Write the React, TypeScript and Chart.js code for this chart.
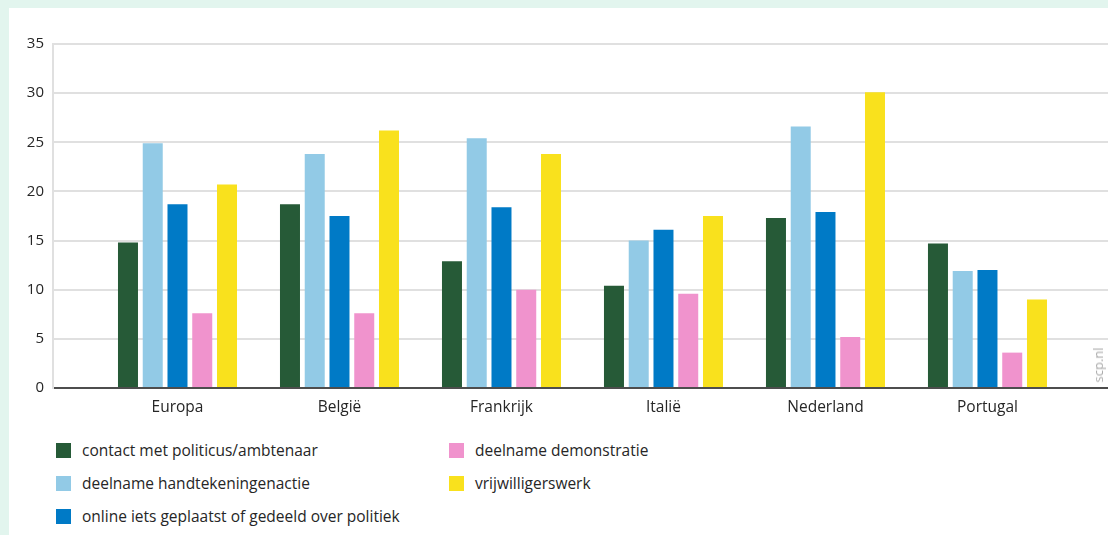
import React, { useEffect, useRef } from "react";
import { Chart, registerables } from "chart.js";

Chart.register(...registerables);

const categories = ["Europa", "België", "Frankrijk", "Italië", "Nederland", "Portugal"];
const seriesNames = [
  "contact met politicus/ambtenaar",
  "deelname handtekeningenactie",
  "online iets geplaatst of gedeeld over politiek",
  "deelname demonstratie",
  "vrijwilligerswerk",
];
const contactValues = [14.8, 18.7, 12.9, 10.4, 17.3, 14.7];
const handtekeningValues = [24.9, 23.8, 25.4, 15.0, 26.6, 11.9];
const onlineValues = [18.7, 17.5, 18.4, 16.1, 17.9, 12.0];
const demonstratieValues = [7.6, 7.6, 10.0, 9.6, 5.2, 3.6];
const vrijwilligersValues = [20.7, 26.2, 23.8, 17.5, 30.1, 9.0];
const yTicks = [0, 5, 10, 15, 20, 25, 30, 35];
const colors = ["#265a37", "#92cae6", "#007ac6", "#f093cd", "#f9e11d"];

const allValues = [contactValues, handtekeningValues, onlineValues, demonstratieValues, vrijwilligersValues];

const FONT = "'Open Sans', 'Noto Sans', sans-serif";
const TEXT = "#262626";

export default function App() {
  const ref = useRef<HTMLCanvasElement | null>(null);

  useEffect(() => {
    document.body.style.margin = "0";
    if (!ref.current) return;
    const chart = new Chart(ref.current, {
      type: "bar",
      data: {
        datasets: allValues.map((vals, s) => ({
          label: seriesNames[s],
          data: vals.map((v, i) => ({ x: i, y: v })),
          backgroundColor: colors[s],
          borderWidth: 0,
          categoryPercentage: 0.764,
          barPercentage: 0.808,
        })),
      },
      options: {
        animation: false,
        responsive: false,
        maintainAspectRatio: false,
        layout: { padding: { top: 44, right: 0, left: 0, bottom: 0 } },
        plugins: { legend: { display: false }, tooltip: { enabled: false } },
        scales: {
          x: {
            type: "linear",
            offset: false,
            min: -0.7685,
            max: 5.744,
            grid: { display: false, drawTicks: false },
            border: { display: true, color: "#4d4d4d", width: 2 },
            afterBuildTicks: (scale: any) => {
              scale.ticks = categories.map((_, i) => ({ value: i }));
            },
            afterFit: (scale: any) => {
              scale.height = 32;
            },
            ticks: {
              autoSkip: false,
              maxRotation: 0,
              padding: 10,
              color: TEXT,
              font: { family: FONT, size: 15.5 },
              callback: (v: any) => categories[Number(v)] ?? "",
            },
          },
          y: {
            min: 0,
            max: 35,
            afterBuildTicks: (scale: any) => {
              scale.ticks = yTicks.map((v) => ({ value: v }));
            },
            afterFit: (scale: any) => {
              scale.width = 53;
            },
            grid: { color: "#e0e0e0", lineWidth: 2, drawTicks: false },
            border: { display: true, color: "#e0e0e0", width: 2 },
            ticks: {
              padding: 9,
              color: TEXT,
              font: { family: FONT, size: 15 },
            },
          },
        },
      },
    });
    return () => chart.destroy();
  }, []);

  const legendPos = [
    { left: 56, top: 443 },
    { left: 56, top: 476 },
    { left: 56, top: 509 },
    { left: 449, top: 443 },
    { left: 449, top: 476 },
  ];

  return (
    <div style={{ position: "relative", width: 1108, height: 535, background: "#e2f5ee", overflow: "hidden", fontFamily: FONT }}>
      <div style={{ position: "absolute", left: 9, top: 8, right: 0, bottom: 0, background: "#ffffff" }} />
      <canvas ref={ref} width={1108} height={420} style={{ position: "absolute", left: 0, top: 0, width: 1108, height: 420 }} />
      {seriesNames.map((name, s) => (
        <div
          key={name}
          style={{
            position: "absolute",
            left: legendPos[s].left,
            top: legendPos[s].top,
            height: 15,
            display: "flex",
            alignItems: "center",
            whiteSpace: "nowrap",
          }}
        >
          <div style={{ width: 15, height: 15, background: colors[s], marginRight: 11 }} />
          <span style={{ fontSize: 15.5, color: TEXT, lineHeight: "15px" }}>{name}</span>
        </div>
      ))}
      <div
        style={{
          position: "absolute",
          left: 1098,
          top: 365,
          transform: "translate(-50%, -50%) rotate(-90deg)",
          fontSize: 13,
          color: "#aaaaaa",
          whiteSpace: "nowrap",
        }}
      >
        scp.nl
      </div>
    </div>
  );
}
